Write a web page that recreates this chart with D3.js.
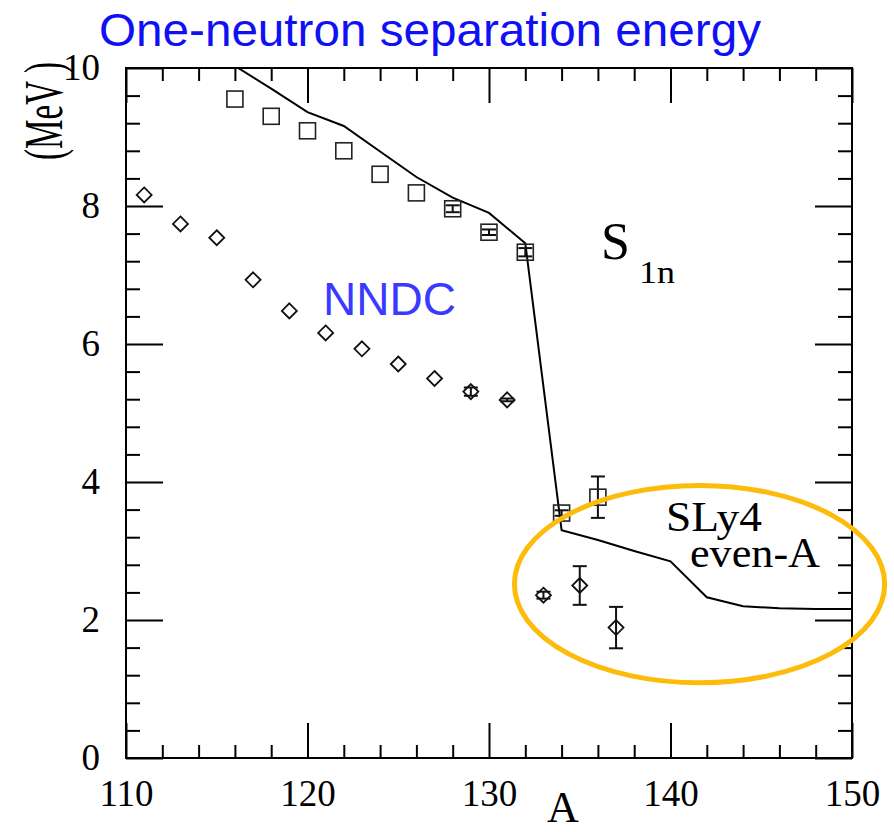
<!DOCTYPE html>
<html>
<head>
<meta charset="utf-8">
<script src="https://cdn.jsdelivr.net/npm/d3@7"></script>
<style>
  body { margin: 0; background: #fff; }
  svg { display: block; }
  .tick text { font-family: 'Liberation Serif', 'Times New Roman', serif; font-size: 37px; fill: #000; }
  .tick line { stroke: #000; stroke-width: 2; }
</style>
</head>
<body>
<svg id="chart" width="894" height="832"></svg>
<script>
// even-A NNDC values (squares)
const evenA = [116, 118, 120, 122, 124, 126, 128, 130, 132, 134, 136]
const evenS = [9.55, 9.30, 9.09, 8.80, 8.46, 8.19, 7.96, 7.62, 7.33, 3.55, 3.78]
const evenErr = [0, 0, 0, 0, 0, 0, 0.05, 0.04, 0.06, 0.04, 0.30]

// odd-A NNDC values (diamonds)
const oddA = [111, 113, 115, 117, 119, 121, 123, 125, 127, 129, 131, 133, 135, 137]
const oddS = [8.16, 7.74, 7.54, 6.93, 6.48, 6.16, 5.93, 5.71, 5.50, 5.31, 5.19, 2.36, 2.50, 1.89]
const oddErr = [0, 0, 0, 0, 0, 0, 0, 0, 0, 0.06, 0.02, 0.05, 0.28, 0.30]

// SLy4 even-A curve
const slyA = [114, 116, 118, 120, 122, 124, 126, 128, 130, 132, 134, 136, 138, 140, 142, 144, 146, 148, 150]
const slyS = [10.37, 10.03, 9.70, 9.36, 9.16, 8.79, 8.42, 8.12, 7.90, 7.46, 3.30, 3.16, 3.00, 2.85, 2.33, 2.20, 2.17, 2.16, 2.16]

const xMajor = [110, 120, 130, 140, 150]
const xMinor = [112, 114, 116, 118, 122, 124, 126, 128, 132, 134, 136, 138, 142, 144, 146, 148]
const yMajor = [0, 2, 4, 6, 8, 10]
const yMinor = [0.4, 0.8, 1.2, 1.6, 2.4, 2.8, 3.2, 3.6, 4.4, 4.8, 5.2, 5.6, 6.4, 6.8, 7.2, 7.6, 8.4, 8.8, 9.2, 9.6]

const svg = d3.select('#chart')
const margin = {left: 126, right: 852, top: 68, bottom: 758}
const width = margin.right - margin.left, height = margin.bottom - margin.top

const x = d3.scaleLinear().domain([110, 150]).range([0, width])
const y = d3.scaleLinear().domain([0, 10]).range([height, 0])

const g = svg.append('g').attr('transform', `translate(${margin.left},${margin.top})`)

g.append('clipPath').attr('id', 'clip')
    .append('rect').attr('width', width).attr('height', height)

// axes: major + minor ticks on all four sides, pointing inward
function addAxis(axis, tr, vals, size, labels) {
    const a = g.append('g').attr('transform', tr)
        .call(axis.tickValues(vals).tickSize(-size).tickSizeOuter(0)
            .tickFormat(labels ? d3.format('d') : ''))
    a.select('.domain').remove()
    return a
}
addAxis(d3.axisBottom(x).tickPadding(22), `translate(0,${height})`, xMajor, 35, true)
addAxis(d3.axisBottom(x), `translate(0,${height})`, xMinor, 13, false)
addAxis(d3.axisTop(x), 'translate(0,0)', xMajor, 35, false)
addAxis(d3.axisTop(x), 'translate(0,0)', xMinor, 13, false)
addAxis(d3.axisLeft(y).tickPadding(26), 'translate(0,0)', yMajor, 37, true)
addAxis(d3.axisLeft(y), 'translate(0,0)', yMinor, 14, false)
addAxis(d3.axisRight(y), `translate(${width},0)`, yMajor, 37, false)
addAxis(d3.axisRight(y), `translate(${width},0)`, yMinor, 14, false)

g.append('rect')
    .attr('width', width).attr('height', height)
    .attr('fill', 'none').attr('stroke', '#000').attr('stroke-width', 2)

// SLy4 line
g.append('path')
    .datum(slyA.map((a, i) => [a, slyS[i]]))
    .attr('clip-path', 'url(#clip)')
    .attr('fill', 'none').attr('stroke', '#000').attr('stroke-width', 2)
    .attr('d', d3.line().x(d => x(d[0])).y(d => y(d[1])))

// error bars
function errorBars(as, vs, es, cap) {
    as.forEach((a, i) => {
        if (!es[i]) return
        const cx = x(a), y1 = y(vs[i] - es[i]), y2 = y(vs[i] + es[i])
        const eb = g.append('g').attr('stroke', '#111').attr('stroke-width', 2)
        eb.append('line').attr('x1', cx).attr('x2', cx).attr('y1', y1).attr('y2', y2)
        eb.append('line').attr('x1', cx - cap).attr('x2', cx + cap).attr('y1', y1).attr('y2', y1)
        eb.append('line').attr('x1', cx - cap).attr('x2', cx + cap).attr('y1', y2).attr('y2', y2)
    })
}
errorBars(evenA, evenS, evenErr, 7)
errorBars(oddA, oddS, oddErr, 7)

// squares
g.selectAll('.sq')
    .data(evenA.map((a, i) => [a, evenS[i]]))
    .enter().append('rect')
    .attr('class', 'sq')
    .attr('x', d => x(d[0]) - 8).attr('y', d => y(d[1]) - 8)
    .attr('width', 16).attr('height', 16)
    .attr('fill', 'none').attr('stroke', '#222').attr('stroke-width', 1.6)

// diamonds
const dr = 7.5
g.selectAll('.dm')
    .data(oddA.map((a, i) => [a, oddS[i]]))
    .enter().append('path')
    .attr('class', 'dm')
    .attr('d', d => {
        const cx = x(d[0]), cy = y(d[1])
        return `M${cx},${cy - dr}L${cx + dr},${cy}L${cx},${cy + dr}L${cx - dr},${cy}Z`
    })
    .attr('fill', 'none').attr('stroke', '#111').attr('stroke-width', 1.8)

// ellipse around SLy4 region
g.append('ellipse')
    .attr('cx', x(141.6)).attr('cy', y(2.52))
    .attr('rx', x(141.6 + 10.2) - x(141.6)).attr('ry', y(2.52) - y(2.52 + 1.43))
    .attr('fill', 'none').attr('stroke', '#fdbb0c').attr('stroke-width', 5)

// text
const serif = "'Liberation Serif', 'Times New Roman', serif"
const sans = "'Liberation Sans', Arial, sans-serif"

svg.append('text')
    .attr('x', 430).attr('y', 46)
    .attr('text-anchor', 'middle')
    .attr('textLength', 662).attr('lengthAdjust', 'spacingAndGlyphs')
    .style('font-family', sans).style('font-size', '47px')
    .attr('fill', '#1010f5')
    .text('One-neutron separation energy')

svg.append('text')
    .attr('x', 323).attr('y', 315)
    .style('font-family', sans).style('font-size', '46px')
    .attr('fill', '#3a3aff')
    .text('NNDC')

svg.append('text')
    .attr('transform', 'translate(62,111) rotate(-90)')
    .attr('text-anchor', 'middle')
    .attr('textLength', 98).attr('lengthAdjust', 'spacingAndGlyphs')
    .style('font-family', serif).style('font-size', '54px')
    .text('(MeV )')

svg.append('text')
    .attr('x', 563).attr('y', 822)
    .attr('text-anchor', 'middle')
    .style('font-family', serif).style('font-size', '44px')
    .text('A')

svg.append('text')
    .attr('x', 601).attr('y', 259)
    .style('font-family', serif).style('font-size', '52px')
    .text('S')
svg.append('text')
    .attr('x', 639).attr('y', 283)
    .attr('textLength', 36).attr('lengthAdjust', 'spacingAndGlyphs')
    .style('font-family', serif).style('font-size', '32px')
    .text('1n')

svg.append('text')
    .attr('x', 666).attr('y', 531)
    .attr('textLength', 96).attr('lengthAdjust', 'spacingAndGlyphs')
    .style('font-family', serif).style('font-size', '42px')
    .text('SLy4')
svg.append('text')
    .attr('x', 690).attr('y', 567)
    .attr('textLength', 130).attr('lengthAdjust', 'spacingAndGlyphs')
    .style('font-family', serif).style('font-size', '42px')
    .text('even-A')
</script>
</body>
</html>
